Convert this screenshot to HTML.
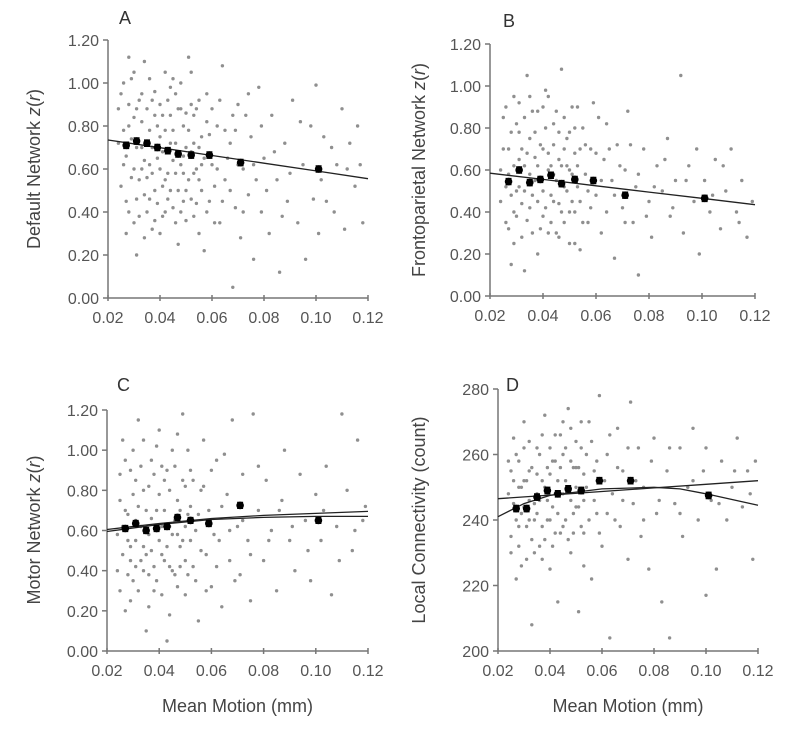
<!DOCTYPE html>
<html><head><meta charset="utf-8"><style>
html,body{margin:0;padding:0;background:#fff;}
svg{display:block;font-family:"Liberation Sans",Arial,sans-serif;}
</style></head><body>
<svg id="chart" width="800" height="742" viewBox="0 0 800 742" xmlns="http://www.w3.org/2000/svg"></svg>
<script>
// ---- Data ----
const binX = [0.027,0.031,0.035,0.039,0.043,0.047,0.052,0.059,0.071,0.101];
const binA = [0.71,0.73,0.72,0.70,0.685,0.67,0.665,0.665,0.63,0.60];
const binB = [0.545,0.60,0.54,0.555,0.575,0.535,0.555,0.55,0.48,0.465];
const binC = [0.61,0.635,0.60,0.61,0.62,0.665,0.65,0.635,0.725,0.65];
const binD = [243.5,243.5,247,249,248,249.5,249,252,252,247.5];
const fitX = [0.02,0.04,0.06,0.08,0.10,0.12];
const fitA = [0.735,0.699,0.663,0.627,0.591,0.555];
const fitB = [0.585,0.555,0.525,0.495,0.465,0.435];
const fitC1 = [0.605,0.635,0.66,0.675,0.685,0.695];
const fitC2 = [0.595,0.63,0.655,0.665,0.67,0.67];
const fitD1 = [246.5,247.6,248.7,249.8,250.9,252];
const fitD2X = [0.02,0.03,0.04,0.06,0.08,0.09,0.10,0.12];
const fitD2 = [241,245,247.5,249.5,250,249.5,248,244.5];
const xTicks = ["0.02","0.04","0.06","0.08","0.10","0.12"];
const zTicks = ["0.00","0.20","0.40","0.60","0.80","1.00","1.20"];
const dTicks = ["200","220","240","260","280"];
const ptsA = [.025,.95,.026,.62,.027,.45,.028,.80,.029,1.02,.030,.35,.031,.88,.032,.55,.033,.70,.034,1.10,.035,.40,.036,.78,.037,.92,.038,.50,.039,.65,.040,.30,.041,.85,.042,1.05,.043,.58,.044,.72,.045,.42,.046,.95,.047,.25,.048,.62,.049,.80,.050,.50,.051,1.12,.052,.68,.053,.38,.054,.88,.055,.55,.056,.75,.057,.22,.058,.95,.059,.45,.060,.62,.062,.80,.063,.35,.064,1.08,.065,.55,.067,.72,.068,.05,.069,.42,.070,.90,.071,.28,.072,.60,.074,.48,.075,.75,.076,.18,.078,.98,.079,.40,.080,.65,.082,.30,.083,.85,.085,.55,.086,.12,.088,.72,.089,.45,.091,.92,.093,.35,.095,.62,.096,.18,.098,.80,.100,.99,.101,.30,.102,.55,.104,.45,.106,.70,.108,.62,.110,.88,.111,.32,.113,.72,.115,.52,.117,.62,.118,.35,.024,.72,.027,.30,.028,1.12,.030,.60,.031,.20,.033,.95,.034,.48,.036,.62,.037,.32,.038,.85,.040,.75,.041,.52,.042,.40,.044,.98,.045,.64,.046,.35,.048,.88,.049,.45,.050,.70,.052,.90,.053,.58,.055,.30,.057,.65,.058,.82,.061,.52,.063,.92,.066,.65,.069,.78,.073,.85,.077,.55,
.024,.88,.025,.52,.026,.78,.026,1.00,.027,.66,.028,.40,.028,.90,.029,.56,.029,.74,.030,.84,.030,1.05,.031,.46,.031,.70,.032,.92,.032,.38,.033,.60,.033,.82,.034,.64,.034,.28,.035,.88,.035,.56,.036,1.02,.036,.46,.037,.70,.037,.58,.038,.96,.038,.36,.039,.80,.039,.44,.040,.90,.040,.60,.041,.68,.041,.38,.042,.78,.042,.55,.043,.92,.043,.46,.044,.50,.044,.85,.045,.78,.045,1.02,.046,.58,.046,.72,.047,.88,.047,.50,.048,.40,.048,1.00,.049,.66,.049,.58,.050,.86,.050,.36,.051,.55,.051,.78,.052,.46,.052,1.05,.053,.72,.053,.85,.054,.60,.054,.44,.055,.70,.055,.92,.056,.50,.056,.62,.058,.40,.059,.76,.060,.88,.061,.35,.062,.60,.064,.45,.065,.78,.067,.50,.068,.85,.070,.62,.072,.40,.074,.95,.076,.62,.079,.80,.081,.50,.084,.68,.087,.38,.090,.58,.094,.82,.099,.46,.103,.75,.107,.40,.112,.60,.116,.80];
const ptsB = [.024,.60,.025,.85,.026,.35,.027,.70,.028,.15,.029,.95,.030,.50,.031,.78,.032,.28,.033,.62,.034,1.05,.035,.42,.036,.88,.037,.55,.038,.20,.039,.72,.040,.38,.041,.98,.042,.60,.043,.48,.044,.82,.045,.30,.046,.65,.047,1.08,.048,.52,.049,.75,.050,.40,.051,.90,.052,.25,.053,.62,.054,.45,.055,.80,.056,.58,.057,.35,.058,.70,.059,.92,.060,.48,.062,.30,.063,.65,.064,.82,.066,.55,.067,.18,.068,.72,.070,.42,.071,.60,.072,.88,.074,.35,.075,.52,.076,.10,.078,.70,.080,.45,.081,.28,.083,.62,.085,.50,.087,.75,.088,.38,.090,.55,.092,1.05,.093,.30,.095,.62,.097,.45,.099,.20,.101,.55,.103,.40,.105,.65,.107,.32,.109,.50,.111,.70,.113,.40,.115,.55,.117,.28,.119,.45,.026,.52,.029,.40,.031,.65,.033,.12,.035,.75,.038,.62,.040,.90,.042,.30,.044,.58,.046,.44,.048,.70,.050,.60,.052,.80,.054,.22,
.024,.45,.025,.70,.026,.90,.027,.32,.027,.58,.028,.78,.028,.48,.029,.62,.029,.25,.030,.82,.030,.38,.031,.52,.031,.92,.032,.70,.032,.44,.033,.85,.033,.50,.034,.36,.034,.68,.035,.58,.035,.95,.036,.48,.036,.30,.037,.78,.037,.66,.038,.45,.038,.88,.039,.55,.039,.32,.040,.70,.040,.50,.041,.42,.041,.80,.042,.68,.042,.95,.043,.35,.043,.62,.044,.72,.044,.45,.045,.88,.045,.55,.046,.78,.046,.28,.047,.62,.047,.40,.048,.85,.048,.35,.049,.50,.049,.62,.050,.78,.050,.25,.051,.58,.051,.45,.052,.68,.052,.40,.053,.90,.053,.52,.054,.70,.055,.35,.056,.72,.057,.50,.058,.42,.060,.68,.061,.85,.062,.55,.064,.40,.065,.70,.067,.48,.069,.62,.071,.35,.073,.72,.076,.58,.079,.38,.082,.52,.086,.65,.089,.42,.094,.55,.098,.70,.104,.48,.108,.62,.114,.35];
const ptsC = [.024,.40,.025,.75,.026,1.05,.027,.20,.028,.55,.029,.90,.030,.35,.031,.65,.032,1.15,.033,.45,.034,.80,.035,.10,.036,.58,.037,.95,.038,.30,.039,.70,.040,1.10,.041,.48,.042,.85,.043,.05,.044,.62,.045,1.00,.046,.38,.047,.75,.048,.52,.049,1.18,.050,.28,.051,.68,.052,.90,.053,.42,.054,.60,.055,.15,.056,.80,.057,1.05,.058,.48,.059,.70,.060,.32,.062,.95,.063,.55,.064,.22,.066,.78,.067,.45,.068,1.15,.070,.62,.071,.38,.072,.88,.074,.55,.075,.25,.076,1.18,.078,.70,.080,.45,.081,.85,.083,.60,.085,.30,.087,.75,.088,1.00,.090,.55,.092,.40,.094,.88,.096,.65,.098,.35,.100,.78,.102,.55,.104,.92,.106,.28,.108,.62,.110,1.18,.112,.80,.114,.50,.116,1.05,.118,.65,.119,.72,.026,.62,.029,.45,.031,.85,.034,.52,.036,.38,.039,.60,.041,.92,.044,.42,.047,.58,.050,.82,
.024,.58,.025,.30,.025,.88,.026,.48,.027,.70,.027,.95,.028,.38,.028,.68,.029,.52,.029,.25,.030,.78,.030,1.00,.031,.42,.031,.55,.032,.72,.032,.30,.033,.62,.033,.92,.034,.40,.034,1.05,.035,.70,.035,.48,.036,.82,.036,.22,.037,.50,.037,.66,.038,.88,.038,.42,.039,1.02,.039,.35,.040,.55,.040,.78,.041,.62,.041,.28,.042,.45,.042,.70,.043,.90,.043,.52,.044,.80,.044,.18,.045,.58,.045,.40,.046,.92,.046,.65,.047,.32,.047,1.08,.048,.70,.048,.42,.049,.55,.049,.85,.050,.62,.050,.45,.051,.38,.051,1.00,.052,.55,.052,.72,.053,.85,.054,.35,.055,.68,.056,.50,.057,.82,.058,.30,.060,.90,.061,.58,.062,.42,.064,.72,.065,.98,.067,.60,.069,.35,.072,.65,.075,.48,.078,.92,.082,.55,.086,.70,.091,.62,.097,.50,.103,.70,.109,.45,.115,.60];
const ptsD = [.024,258,.025,235,.026,265,.027,222,.028,250,.029,242,.030,270,.031,228,.032,255,.033,208,.034,245,.035,262,.036,232,.037,252,.038,272,.039,240,.040,225,.041,258,.042,248,.043,215,.044,266,.045,238,.046,252,.047,274,.048,230,.049,256,.050,244,.051,212,.052,262,.053,236,.054,250,.055,270,.056,222,.057,255,.058,242,.059,278,.060,232,.062,260,.063,204,.064,248,.066,268,.067,238,.068,255,.070,228,.071,276,.072,245,.074,262,.075,235,.076,250,.078,225,.080,265,.081,242,.083,215,.085,255,.086,204,.088,245,.090,262,.091,235,.093,250,.095,268,.097,240,.099,255,.100,217,.102,246,.104,225,.106,258,.108,240,.110,250,.112,265,.114,244,.116,255,.118,228,.119,258,.026,245,.028,238,.030,252,.032,240,.035,248,.037,228,.040,254,.042,236,.045,260,.048,246,.050,256,.053,226,
.024,248,.025,255,.025,230,.026,252,.027,240,.027,260,.028,232,.028,258,.029,250,.029,226,.030,244,.030,262,.031,238,.031,252,.032,246,.032,264,.033,234,.033,256,.034,240,.034,230,.035,254,.035,242,.036,260,.036,246,.037,238,.037,266,.038,250,.038,234,.039,256,.039,246,.040,262,.040,240,.041,244,.041,232,.042,258,.042,266,.043,242,.043,252,.044,236,.044,256,.045,248,.045,270,.046,240,.046,262,.047,250,.047,234,.048,258,.048,268,.049,242,.049,236,.050,264,.050,250,.051,244,.051,256,.052,238,.052,270,.053,254,.053,246,.054,260,.055,240,.056,264,.057,246,.058,258,.059,236,.061,252,.062,242,.063,266,.065,240,.066,256,.068,246,.070,262,.073,252,.076,240,.079,258,.082,246,.086,262,.090,242,.095,252,.100,262,.105,245,.111,255,.117,248];

const NS = "http://www.w3.org/2000/svg";
const svg = document.getElementById('chart');
function mk(tag, attrs, parent) {
  const e = document.createElementNS(NS, tag);
  for (const k in attrs) e.setAttribute(k, attrs[k]);
  (parent || svg).appendChild(e);
  return e;
}

const panels = [
  {id:'a', letter:'A', x0:108, x1:368, yT:40, yB:298, ymin:0, ymax:1.2, ticks:zTicks, bins:binA, pts:ptsA, title:['Default Network ','z','(','r',')'], tx:40, ty:169, lx:119, ly:24, xtitle:false},
  {id:'b', letter:'B', x0:490, x1:755, yT:44, yB:296, ymin:0, ymax:1.2, ticks:zTicks, bins:binB, pts:ptsB, title:['Frontoparietal Network ','z','(','r',')'], tx:425, ty:170, lx:503, ly:27, xtitle:false},
  {id:'c', letter:'C', x0:107, x1:368, yT:410, yB:651, ymin:0, ymax:1.2, ticks:zTicks, bins:binC, pts:ptsC, title:['Motor Network ','z','(','r',')'], tx:40, ty:530, lx:117, ly:391, xtitle:true},
  {id:'d', letter:'D', x0:498, x1:758, yT:389, yB:651, ymin:200, ymax:280, ticks:dTicks, bins:binD, pts:ptsD, title:['Local Connectivity (count)'], tx:425, ty:520, lx:506, ly:391, xtitle:true}
];

panels.forEach(p => {
  const g = mk('g', {});
  
  
  const sx = v => p.x0 + (v - 0.02) / 0.10 * (p.x1 - p.x0);
  const sy = v => p.yB - (v - p.ymin) / (p.ymax - p.ymin) * (p.yB - p.yT);

  const sg = mk('g', {fill:'#8f8f8f'}, g);
  
  
  for (let i = 0; i < p.pts.length; i += 2) {
    const c = mk('circle', {cx:sx(p.pts[i]).toFixed(1), cy:sy(p.pts[i+1]).toFixed(1), r:1.7}, sg);
    
    
  }

  const ax = mk('path', {d:`M${p.x0},${p.yT} L${p.x0},${p.yB} L${p.x1},${p.yB}`, stroke:'#777', 'stroke-width':1.5, fill:'none'}, g);
  
  
  p.ticks.forEach((t, i) => {
    const v = p.ymin + i * (p.ymax - p.ymin) / (p.ticks.length - 1);
    const y = sy(v);
    mk('line', {x1:p.x0-5, x2:p.x0, y1:y, y2:y, stroke:'#777', 'stroke-width':1.5}, g);
    const tl = mk('text', {x:p.x0-9, y:y+6, 'text-anchor':'end', 'font-size':16, fill:'#555'}, g);
    tl.textContent = t;
    
    
  });
  xTicks.forEach(t => {
    const x = sx(parseFloat(t));
    mk('line', {x1:x, x2:x, y1:p.yB-3, y2:p.yB+3, stroke:'#777', 'stroke-width':1.5}, g);
    const tl = mk('text', {x:x, y:p.yB+25, 'text-anchor':'middle', 'font-size':16, fill:'#555'}, g);
    tl.textContent = t;
    
    
  });

  function line(xs, ys, name) {
    const d = xs.map((x, i) => (i ? 'L' : 'M') + sx(x).toFixed(1) + ',' + sy(ys[i]).toFixed(1)).join(' ');
    const l = mk('path', {d:d, stroke:'#222', 'stroke-width':1.3, fill:'none'}, g);
    
    
  }
  if (p.id === 'a') line(fitX, fitA, 'fit-line');
  if (p.id === 'b') line(fitX, fitB, 'fit-line');
  if (p.id === 'c') { line(fitX, fitC1, 'fit-curve-1'); line(fitX, fitC2, 'fit-curve-2'); }
  if (p.id === 'd') { line(fitX, fitD1, 'fit-line'); line(fitD2X, fitD2, 'fit-curve'); }

  const errZ = (p.ymax - p.ymin) * 0.012;
  p.bins.forEach((v, i) => {
    const x = sx(binX[i]), y = sy(v), e = sy(v - errZ) - y;
    const eb = mk('path', {d:`M${x},${y-e} L${x},${y+e} M${x-3},${y-e} L${x+3},${y-e} M${x-3},${y+e} L${x+3},${y+e}`, stroke:'#000', 'stroke-width':1.4, fill:'none'}, g);
    
    
    const m = mk('circle', {cx:x, cy:y, r:3.8, fill:'#000'}, g);
    
    
  });

  const lt = mk('text', {x:p.lx, y:p.ly, 'font-size':18, fill:'#333'}, g);
  lt.textContent = p.letter;
  
  
  const yt = mk('text', {x:p.tx, y:p.ty, 'text-anchor':'middle', 'font-size':18, fill:'#444', transform:`rotate(-90 ${p.tx} ${p.ty})`}, g);
  
  
  p.title.forEach(s => {
    const ts = mk('tspan', {}, yt);
    if (s === 'z' || s === 'r') ts.setAttribute('font-style', 'italic');
    ts.textContent = s;
  });
  if (p.xtitle) {
    const xt = mk('text', {x:(p.x0+p.x1)/2, y:712, 'text-anchor':'middle', 'font-size':18, fill:'#444'}, g);
    xt.textContent = 'Mean Motion (mm)';
    
    
  }
});
</script>
</body></html>
